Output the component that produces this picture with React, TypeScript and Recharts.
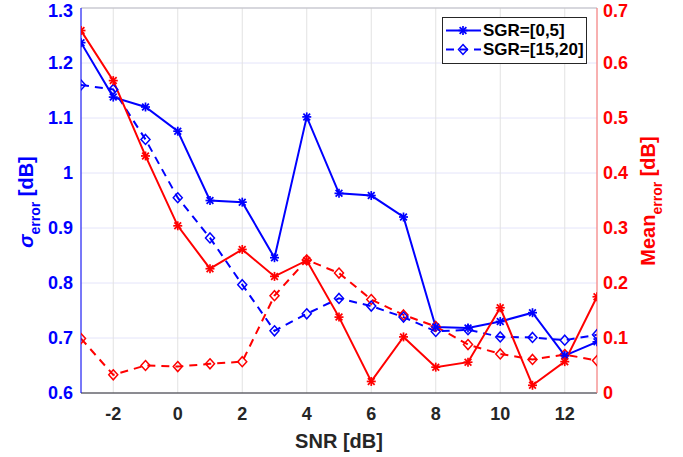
import React from 'react';
import {
  LineChart, Line, XAxis, YAxis, CartesianGrid, ReferenceLine,
} from 'recharts';

const snr = [-3, -2, -1, 0, 1, 2, 3, 4, 5, 6, 7, 8, 9, 10, 11, 12, 13];
const sigmaLow = [1.237, 1.138, 1.12, 1.076, 0.95, 0.947, 0.846, 1.102, 0.963, 0.959, 0.92, 0.72, 0.718, 0.73, 0.746, 0.668, 0.693];
const sigmaHigh = [1.16, 1.152, 1.061, 0.955, 0.882, 0.797, 0.713, 0.744, 0.772, 0.758, 0.738, 0.712, 0.715, 0.702, 0.701, 0.696, 0.706];
const meanLow = [0.659, 0.568, 0.431, 0.304, 0.226, 0.261, 0.212, 0.241, 0.138, 0.021, 0.102, 0.047, 0.056, 0.155, 0.014, 0.057, 0.175];
const meanHigh = [0.099, 0.033, 0.05, 0.048, 0.053, 0.057, 0.177, 0.242, 0.218, 0.17, 0.142, 0.121, 0.088, 0.071, 0.061, 0.07, 0.059];

const xTicks = [-2, 0, 2, 4, 6, 8, 10, 12];
const leftTicks = [0.6, 0.7, 0.8, 0.9, 1.0, 1.1, 1.2, 1.3];
const rightTicks = [0, 0.1, 0.2, 0.3, 0.4, 0.5, 0.6, 0.7];
const legendNames = ['SGR=[0,5]', 'SGR=[15,20]'];

const data = snr.map((s, i) => ({
  snr: s,
  sigmaLow: sigmaLow[i],
  sigmaHigh: sigmaHigh[i],
  meanLow: meanLow[i],
  meanHigh: meanHigh[i],
}));

const BLUE = '#0000ff';
const RED = '#ff0000';
const FONT = '"Liberation Sans", Arial, sans-serif';

const fmt = (v: number) => String(Number(v.toFixed(1)));

// MATLAB style '*' marker
const Star = ({ cx, cy, stroke }: any) => {
  if (cx == null || cy == null) return null;
  const r = 4.5;
  const d = r * 0.75;
  return (
    <g stroke={stroke} strokeWidth={1.7}>
      <line x1={cx} y1={cy - r} x2={cx} y2={cy + r} />
      <line x1={cx - r} y1={cy} x2={cx + r} y2={cy} />
      <line x1={cx - d} y1={cy - d} x2={cx + d} y2={cy + d} />
      <line x1={cx - d} y1={cy + d} x2={cx + d} y2={cy - d} />
    </g>
  );
};

const Diamond = ({ cx, cy, stroke }: any) => {
  if (cx == null || cy == null) return null;
  return (
    <polygon
      points={`${cx},${cy - 5} ${cx + 4.5},${cy} ${cx},${cy + 5} ${cx - 4.5},${cy}`}
      fill="none"
      stroke={stroke}
      strokeWidth={1.5}
      strokeDasharray="none"
    />
  );
};

const LegendBox = () => (
  <div style={{
    position: 'absolute', left: 442, top: 17,
    width: 143, height: 45, border: '1px solid #262626', background: '#fff',
    fontFamily: FONT, fontWeight: 700, fontSize: 17, color: '#000',
    boxSizing: 'content-box',
  }}>
    {legendNames.map((name, i) => (
      <div key={name} style={{ display: 'flex', alignItems: 'center', height: 19, marginTop: i === 0 ? 3 : 0 }}>
        <svg width={40} height={19} style={{ flex: 'none' }}>
          <line x1={3} y1={9.5} x2={38} y2={9.5} stroke={BLUE} strokeWidth={2}
            strokeDasharray={i === 0 ? undefined : '8 6'} />
          {i === 0 ? <Star cx={20} cy={9.5} stroke={BLUE} /> : <Diamond cx={20} cy={9.5} stroke={BLUE} />}
        </svg>
        <span style={{ whiteSpace: 'nowrap' }}>{name}</span>
      </div>
    ))}
  </div>
);

const LeftLabel = () => (
  <text transform="translate(33,202) rotate(-90)" textAnchor="middle" fill={BLUE}
    fontFamily={FONT} fontSize={20} fontWeight={700}>
    <tspan fontStyle="italic">σ</tspan>
    <tspan fontSize={14} dy={7}>error</tspan>
    <tspan dy={-7}> [dB]</tspan>
  </text>
);

const RightLabel = () => (
  <text transform="translate(655,201) rotate(-90)" textAnchor="middle" fill={RED}
    fontFamily={FONT} fontSize={20} fontWeight={700}>
    <tspan>Mean</tspan>
    <tspan fontSize={14} dy={7}>error</tspan>
    <tspan dy={-7}> [dB]</tspan>
  </text>
);

export default function App() {
  return (
    <div style={{ position: 'absolute', left: 0, top: 0, width: 683, height: 457, background: '#fff' }}>
      <LineChart width={683} height={457} data={data} margin={{ top: 8, right: 0, left: 0, bottom: 0 }}>
        <CartesianGrid yAxisId="left" vertical={false} stroke="#e4e4fa" strokeWidth={1} />
        <CartesianGrid yAxisId="left" horizontal={false} stroke="#e2e2e2" strokeWidth={1} />
        <XAxis
          dataKey="snr"
          type="number"
          domain={[-3, 13]}
          ticks={xTicks}
          allowDataOverflow
          height={64}
          tickLine={false}
          tickMargin={8}
          axisLine={{ stroke: '#262626' }}
          tick={{ fill: '#262626', fontSize: 18, fontWeight: 700, fontFamily: FONT }}
          label={{ value: 'SNR [dB]', position: 'insideBottom', offset: 9, fill: '#262626', fontSize: 20, fontWeight: 700, fontFamily: FONT }}
        />
        <YAxis
          yAxisId="left"
          domain={[0.6, 1.3]}
          ticks={leftTicks}
          tickFormatter={fmt}
          width={81}
          tickLine={false}
          tickSize={6}
          tickMargin={2}
          axisLine={{ stroke: BLUE }}
          tick={{ fill: BLUE, fontSize: 18, fontWeight: 700, fontFamily: FONT }}
          label={<LeftLabel />}
        />
        <YAxis
          yAxisId="right"
          orientation="right"
          domain={[0, 0.7]}
          ticks={rightTicks}
          tickFormatter={fmt}
          width={86}
          tickLine={false}
          tickSize={6}
          tickMargin={0}
          axisLine={{ stroke: '#ff7070' }}
          tick={{ fill: RED, fontSize: 18, fontWeight: 700, fontFamily: FONT }}
          label={<RightLabel />}
        />
        <ReferenceLine yAxisId="left" y={1.3} stroke="#bdbdbd" strokeWidth={1} />
        <Line yAxisId="right" dataKey="meanHigh" stroke={RED} strokeWidth={2} strokeDasharray="8 6"
          dot={<Diamond stroke={RED} />} isAnimationActive={false} />
        <Line yAxisId="left" dataKey="sigmaHigh" stroke={BLUE} strokeWidth={2} strokeDasharray="8 6"
          dot={<Diamond stroke={BLUE} />} isAnimationActive={false} />
        <Line yAxisId="left" dataKey="sigmaLow" stroke={BLUE} strokeWidth={2}
          dot={<Star stroke={BLUE} />} isAnimationActive={false} />
        <Line yAxisId="right" dataKey="meanLow" stroke={RED} strokeWidth={2}
          dot={<Star stroke={RED} />} isAnimationActive={false} />
      </LineChart>
      <LegendBox />
    </div>
  );
}
